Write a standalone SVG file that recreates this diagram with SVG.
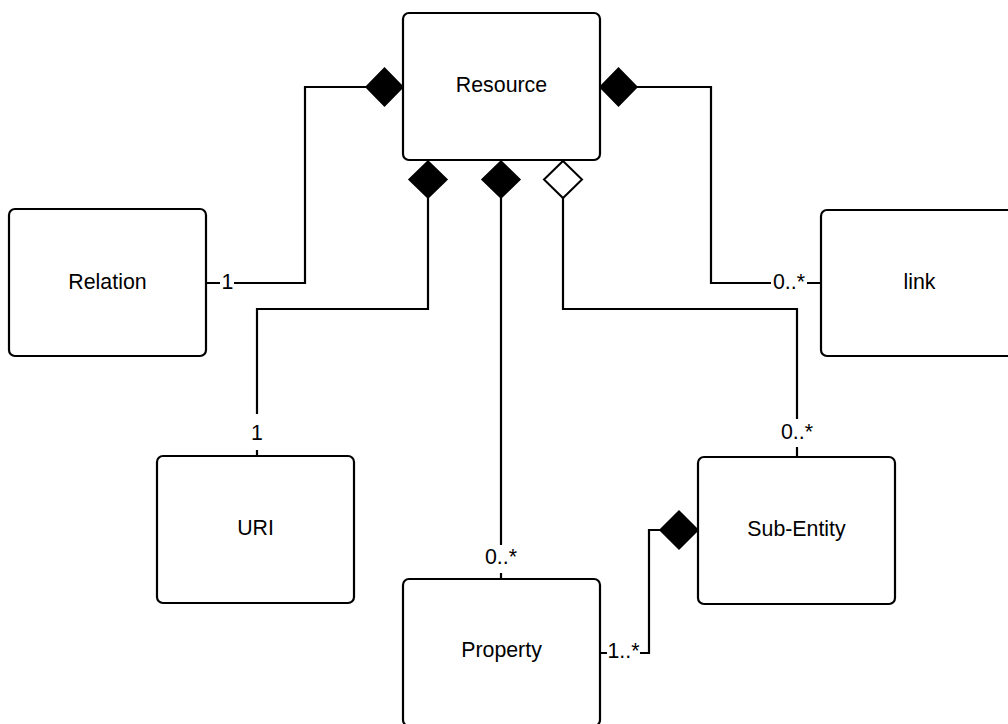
<svg xmlns="http://www.w3.org/2000/svg" width="1008" height="724" viewBox="0 0 1008 724">
<style>
.box{fill:#fff;stroke:#000;stroke-width:2.2}
.t{font-family:"Liberation Sans",Arial,sans-serif;font-size:21.33px;fill:#000;text-anchor:middle}
.c{fill:none;stroke:#000;stroke-width:2.2}
.d{fill:#000;stroke:#000;stroke-width:1.5}
.o{fill:#fff;stroke:#000;stroke-width:2}
</style>
<rect width="1008" height="724" fill="#fff"/>
<g id="connectors">
<path class="c" d="M366,87 H305 V283 H234 M220,283 H207"/>
<path class="c" d="M637,87 H711 V283 H771 M807,283 H821"/>
<path class="c" d="M428,198 V309 H257 V414 M257,450 V456"/>
<path class="c" d="M501,198 V545 M501,573 V579"/>
<path class="c" d="M563,198 V309 H797 V419 M797,447 V457"/>
<path class="c" d="M660,530 H649 V653 H640 M607,653 H600"/>
<polygon class="d" points="403,87 384.5,68 366,87 384.5,106"/>
<polygon class="d" points="600,87 618.5,68 637,87 618.5,106"/>
<polygon class="d" points="428,161 447,179.5 428,198 409,179.5"/>
<polygon class="d" points="501,161 520,179.5 501,198 482,179.5"/>
<polygon class="o" points="563,161 582,179.5 563,198 544,179.5"/>
<polygon class="d" points="698,530 679,511 660,530 679,549"/>
<text class="t" x="227.5" y="288.5">1</text>
<text class="t" x="789" y="289">0..*</text>
<text class="t" x="257" y="440">1</text>
<text class="t" x="501" y="563.5">0..*</text>
<text class="t" x="797" y="438.5">0..*</text>
<text class="t" x="623.5" y="658">1..*</text>
</g>
<g id="resource"><rect class="box" x="403" y="13" width="197" height="147" rx="6"/><text class="t" x="501.5" y="92">Resource</text></g>
<g id="relation"><rect class="box" x="9" y="209" width="197" height="147" rx="6"/><text class="t" x="107.5" y="289">Relation</text></g>
<g id="link"><rect class="box" x="821" y="210" width="197" height="146" rx="6"/><text class="t" x="919.5" y="289">link</text></g>
<g id="uri"><rect class="box" x="157" y="456" width="197" height="147" rx="6"/><text class="t" x="255.5" y="535">URI</text></g>
<g id="sub-entity"><rect class="box" x="698" y="457" width="197" height="147" rx="6"/><text class="t" x="796.5" y="536">Sub-Entity</text></g>
<g id="property"><rect class="box" x="403" y="579" width="197" height="147" rx="6"/><text class="t" x="501.5" y="657">Property</text></g>
</svg>
